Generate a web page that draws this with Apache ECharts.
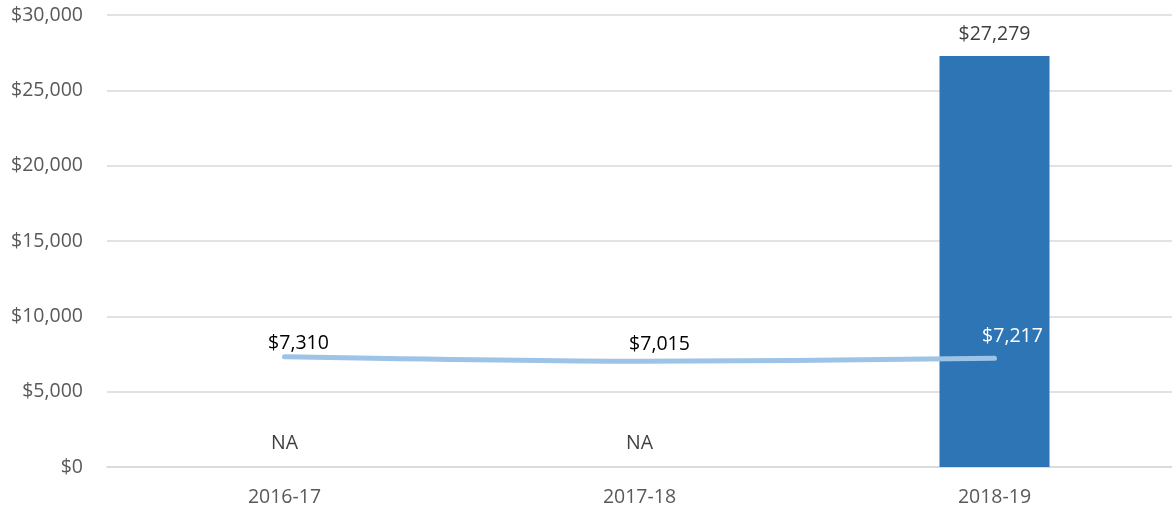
<!DOCTYPE html>
<html><head><meta charset="utf-8">
<script src="https://cdn.jsdelivr.net/npm/echarts@6/dist/echarts.min.js"></script>
<style>html,body{margin:0;padding:0;background:#fff}#c{width:1172px;height:516px}</style>
</head><body><div id="c"></div>
<script>
const categories = ['2016-17', '2017-18', '2018-19'];
const barValues = [null, null, 27279];
const lineValues = [7310, 7015, 7217];
const yTicks = [0, 5000, 10000, 15000, 20000, 25000, 30000];

const fmt = v => '$' + v.toLocaleString('en-US');
const chart = echarts.init(document.getElementById('c'));
const font = "'Open Sans', 'Liberation Sans', sans-serif";
const lineLabelOffsets = [[14, 6], [20, 2], [18, -3]];
chart.setOption({
  animation: false,
  grid: { left: 107, right: 0, top: 15, bottom: 49 },
  xAxis: {
    type: 'category', data: categories,
    axisLine: { lineStyle: { color: '#d9d9d9', width: 1.5 } },
    axisTick: { show: false },
    axisLabel: { color: '#595959', fontSize: 19.5, fontFamily: font, margin: 20 }
  },
  yAxis: {
    type: 'value', min: yTicks[0], max: yTicks[yTicks.length - 1], interval: 5000,
    axisLine: { show: false }, axisTick: { show: false },
    splitLine: { lineStyle: { color: '#d9d9d9', width: 1.5 } },
    axisLabel: { color: '#595959', fontSize: 19.5, fontFamily: font, margin: 24, formatter: v => fmt(v) }
  },
  series: [
    {
      type: 'bar', barWidth: 110,
      data: barValues.map(v => v == null
        ? { value: 0, label: { show: true, position: 'top', distance: 14, formatter: 'NA' } }
        : { value: v }),
      itemStyle: { color: '#2E75B6' },
      label: { show: true, position: 'top', distance: 12, color: '#404040', fontSize: 19.5, fontFamily: font, formatter: p => fmt(p.value) }
    },
    {
      type: 'line', smooth: 0.3, symbol: 'circle', symbolSize: 2, showSymbol: true,
      itemStyle: { color: 'rgba(0,0,0,0)', borderWidth: 0 },
      data: lineValues.map((v, i) => ({
        value: v,
        label: { offset: lineLabelOffsets[i], color: i === 2 ? '#ffffff' : '#000000' }
      })),
      lineStyle: { color: '#9DC3E6', width: 5, cap: 'round' },
      label: { show: true, position: 'top', distance: 8, fontSize: 19.5, fontFamily: font, formatter: p => fmt(p.value) },
      z: 3
    }
  ]
});
</script></body></html>
